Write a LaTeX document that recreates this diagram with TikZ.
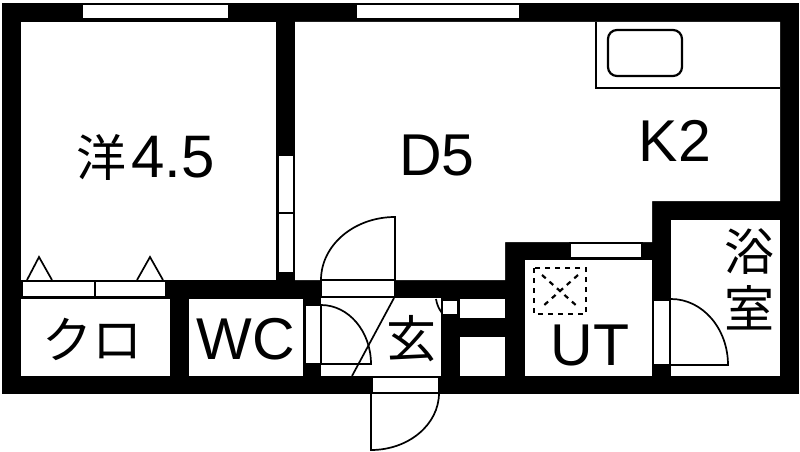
\documentclass[tikz,border=0pt]{standalone}
\usepackage{fontspec}
\setmainfont{Liberation Sans}
\newfontfamily\jpfont{Noto Sans CJK JP}
\tikzset{
  wallfill/.style={fill=black},
  roomfill/.style={fill=white},
  thin line/.style={draw=black,line width=1.7pt},
  openbox/.style={draw=black,fill=white,line width=1.7pt},
  lat/.style={inner sep=0pt,font=\fontsize{59}{59}\selectfont},
  jp/.style={inner sep=0pt,font=\jpfont\fontsize{50}{50}\selectfont},
  vent/.style={draw=black,line width=2.2pt,dash pattern=on 5pt off 5pt}
}
\begin{document}
\begin{tikzpicture}[x=1pt,y=-1pt]
\useasboundingbox (0,0) rectangle (800,452);
\fill[white] (0,0) rectangle (800,452);
% outer silhouette
\fill[wallfill] (2,3) rectangle (799,394);
% rooms
\fill[roomfill] (21,22) rectangle (276,280);
\fill[roomfill] (295,22) -- (780,22) -- (780,201) -- (652,201) -- (652,242) -- (505,242) -- (505,280) -- (295,280) -- cycle;
\fill[roomfill] (21,299) rectangle (170,376);
\fill[roomfill] (189,299) rectangle (303,376);
\fill[roomfill] (321,298) rectangle (441,376);
\fill[roomfill] (460,299) rectangle (505,318);
\fill[roomfill] (460,337) rectangle (505,376);
\fill[roomfill] (525,260) rectangle (652,376);
\fill[roomfill] (671,220) rectangle (780,376);
% windows
\draw[openbox] (82,4) rectangle (229,19);
\draw[openbox] (356,4) rectangle (520,19);
\draw[openbox] (278,155) rectangle (294,273);
\draw[thin line] (278,213) -- (294,213);
\draw[openbox] (570,243) rectangle (642,258);
% closet doors
\draw[openbox] (22,281) rectangle (166,297);
\draw[thin line] (95,281) -- (95,297);
\draw[thin line] (27,280) -- (39,257) -- (52,280);
\draw[thin line] (137,280) -- (150,257) -- (163,280);
% kitchen
\draw[thin line] (596,22) -- (596,88) -- (780,88);
\draw[draw=black,line width=2.2pt,rounded corners=9pt] (608,30) rectangle (682,76);
% door: main entrance to D5
\draw[openbox] (321,280) rectangle (395,297);
\draw[thin line] (395,280) -- (395,217) .. controls (354.1,217) and (321,245.2) .. (321,280);
% WC door
\draw[openbox] (305,305) rectangle (321,364);
\draw[thin line] (321,305) .. controls (348.6,305) and (371,331.4) .. (371,364) -- (321,364);
\draw[thin line] (394,298) -- (352,376);
% entrance door
\draw[openbox] (372,377) rectangle (439,393);
\draw[thin line] (371,393) -- (371,450) .. controls (408.6,450) and (439,424.5) .. (439,393);
% small box
\draw[thin line] (436,299) .. controls (437,305) and (439,309) .. (442,313);
\fill[white] (443,301) rectangle (457,314);
% bath door
\draw[openbox] (653,300) rectangle (670,365);
\draw[thin line] (671,299) .. controls (702.5,299) and (728,328.5) .. (728,365) -- (671,365);
% vent
\draw[vent] (534,268) rectangle (586,314);
\draw[vent] (542,275) -- (578,307);
\draw[vent] (578,275) -- (542,307);
% labels
\node[jp,anchor=center] (west) at (101,157) {洋};
\node[lat,font=\fontsize{60}{60}\selectfont,anchor=center] (westnum) at (173,157) {4.5};
\node[lat] (d5) at (437,155) {D5};
\node[lat] (k2) at (675,141) {K2};
\node[jp] (kuro) at (92,339) {クロ};
\node[lat] (wc) at (246,339) {WC};
\node[jp] (gen) at (411,339) {玄};
\node[lat] (ut) at (590,345) {UT};
\node[jp] (yoku) at (749,252) {浴};
\node[jp] (shitsu) at (749,308) {室};
\end{tikzpicture}
\end{document}
